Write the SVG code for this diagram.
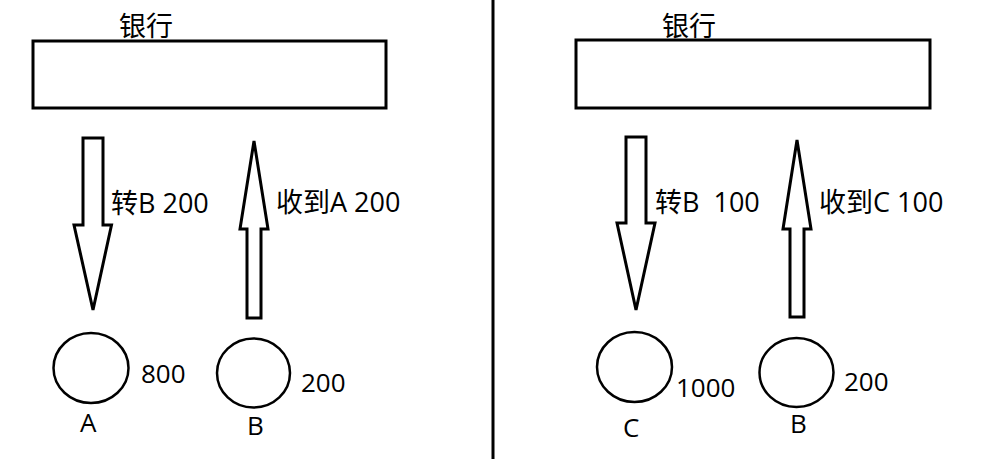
<svg xmlns="http://www.w3.org/2000/svg" width="987" height="471" viewBox="0 0 987 471">
<style>
.box{fill:#fff;stroke:#000;stroke-width:3}
.arr{fill:#fff;stroke:#000;stroke-width:3;stroke-linejoin:miter}
.node{fill:#fff;stroke:#000;stroke-width:2.5}
text{font-family:"Open Sans","Noto Sans CJK SC",sans-serif;font-size:26px;fill:#000}
.lbl{font-size:27px}
</style>
<rect width="987" height="471" fill="#fff"/>
<line x1="493" y1="0" x2="493" y2="459" stroke="#000" stroke-width="3"/>
<g id="bank-left"><rect class="box" x="33" y="41" width="353" height="67"/><text class="lbl" x="119" y="36">银行</text></g>
<g id="bank-right"><rect class="box" x="576" y="40" width="354" height="68"/><text class="lbl" x="662" y="36">银行</text></g>
<g id="connectors">
<polygon class="arr" points="83,138 103,138 103,225 111.5,225 93,310 74,225 83,225"/>
<text class="lbl" x="111" y="213">转B 200</text>
<polygon class="arr" points="254,141 268,229 261,229 261,318 247,318 247,229 240,229"/>
<text class="lbl" x="276" y="212">收到A 200</text>
<polygon class="arr" points="626,137 646,137 646,223 655,223 636,310 617,223 626,223"/>
<text class="lbl" x="655" y="212" xml:space="preserve">转B  100</text>
<polygon class="arr" points="797,140 811,229 804,229 804,317 790,317 790,229 783,229"/>
<text class="lbl" x="819" y="212">收到C 100</text>
</g>
<g id="node-A"><ellipse class="node" cx="91" cy="368" rx="37.5" ry="35"/><text x="80" y="432">A</text><text x="141" y="383">800</text></g>
<g id="node-B-left"><ellipse class="node" cx="253.5" cy="373" rx="36.5" ry="34.5"/><text x="247" y="435">B</text><text x="301" y="392">200</text></g>
<g id="node-C"><ellipse class="node" cx="634.5" cy="367" rx="37.5" ry="35"/><text x="623" y="437">C</text><text x="676" y="397">1000</text></g>
<g id="node-B-right"><ellipse class="node" cx="796.5" cy="372.5" rx="37" ry="34.5"/><text x="790" y="433">B</text><text x="844" y="391">200</text></g>
</svg>
